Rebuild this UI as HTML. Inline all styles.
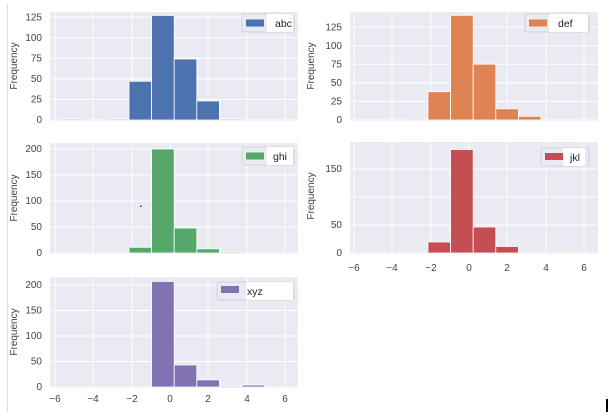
<!DOCTYPE html>
<html><head><meta charset="utf-8"><style>
body{margin:0;background:#fff;width:610px;height:412px;overflow:hidden}
text{font-family:"Liberation Sans","DejaVu Sans",sans-serif;fill:#444;font-size:10px}
</style></head><body>
<svg width="610" height="412" xmlns="http://www.w3.org/2000/svg">
<line x1="7.5" y1="4" x2="7.5" y2="412" stroke="#d8dde8" stroke-width="1"/>
<rect x="606" y="399" width="2" height="13" fill="#000"/>

<!-- abc -->
<rect x="50" y="12" width="248" height="109" fill="#eaeaf2"/>
<g stroke="#fff" stroke-width="1">
<line x1="55" y1="12" x2="55" y2="121"/><line x1="93" y1="12" x2="93" y2="121"/><line x1="132" y1="12" x2="132" y2="121"/><line x1="170" y1="12" x2="170" y2="121"/><line x1="208" y1="12" x2="208" y2="121"/><line x1="247" y1="12" x2="247" y2="121"/><line x1="285" y1="12" x2="285" y2="121"/>
<line x1="50" y1="120" x2="298" y2="120"/><line x1="50" y1="99.4" x2="298" y2="99.4"/><line x1="50" y1="78.8" x2="298" y2="78.8"/><line x1="50" y1="58.2" x2="298" y2="58.2"/><line x1="50" y1="37.6" x2="298" y2="37.6"/><line x1="50" y1="17" x2="298" y2="17"/>
</g>
<g fill="#4c72b0" stroke="#fff" stroke-width="0.8">
<rect x="61" y="119" width="22.6" height="1"/><rect x="106" y="119" width="22.6" height="1"/>
<rect x="129" y="81.3" width="22.6" height="38.7"/><rect x="151.6" y="15.4" width="22.6" height="104.6"/><rect x="174.2" y="59" width="22.6" height="61"/><rect x="196.8" y="101" width="22.6" height="19"/><rect x="219.4" y="119" width="22.6" height="1"/>
</g>
<g text-anchor="end"><text x="42" y="123">0</text><text x="42" y="102.5">25</text><text x="42" y="82">50</text><text x="42" y="61.5">75</text><text x="42" y="41">100</text><text x="42" y="20.5">125</text></g>
<text transform="translate(17,66) rotate(-90)" text-anchor="middle">Frequency</text>
<rect x="242" y="14" width="52" height="18" rx="2" fill="#eaeaf2" stroke="#d0d0d8"/>
<rect x="246" y="19.5" width="18" height="7" fill="#4c72b0"/>
<rect x="267" y="14" width="26" height="18" fill="#fff"/>
<text x="275" y="27" style="fill:#222;font-size:10.5px">abc</text>

<!-- ghi -->
<rect x="50" y="143" width="248" height="111" fill="#eaeaf2"/>
<g stroke="#fff" stroke-width="1">
<line x1="55" y1="143" x2="55" y2="254"/><line x1="93" y1="143" x2="93" y2="254"/><line x1="132" y1="143" x2="132" y2="254"/><line x1="170" y1="143" x2="170" y2="254"/><line x1="208" y1="143" x2="208" y2="254"/><line x1="247" y1="143" x2="247" y2="254"/><line x1="285" y1="143" x2="285" y2="254"/>
<line x1="50" y1="253" x2="298" y2="253"/><line x1="50" y1="227" x2="298" y2="227"/><line x1="50" y1="201" x2="298" y2="201"/><line x1="50" y1="175" x2="298" y2="175"/><line x1="50" y1="149" x2="298" y2="149"/>
</g>
<g fill="#55a868" stroke="#fff" stroke-width="0.8">
<rect x="129" y="247.3" width="22.6" height="5.7"/><rect x="151.6" y="149" width="22.6" height="104"/><rect x="174.2" y="228" width="22.6" height="25"/><rect x="196.8" y="248.8" width="22.6" height="4.2"/><rect x="219.4" y="252" width="22.6" height="1"/><rect x="264.6" y="252" width="22.6" height="1" fill="#9fd0aa"/>
</g>
<rect x="140" y="205.5" width="1.5" height="1.5" fill="#2030e0"/>
<g text-anchor="end"><text x="42" y="256">0</text><text x="42" y="230">50</text><text x="42" y="204">100</text><text x="42" y="178">150</text><text x="42" y="152">200</text></g>
<text transform="translate(17,198) rotate(-90)" text-anchor="middle">Frequency</text>
<rect x="242" y="147" width="52" height="18" rx="2" fill="#eaeaf2" stroke="#d0d0d8"/>
<rect x="246" y="152.5" width="18" height="7" fill="#55a868"/>
<rect x="267" y="147" width="26" height="18" fill="#fff"/>
<text x="273" y="160" style="fill:#222;font-size:10.5px">ghi</text>

<!-- xyz -->
<rect x="50" y="277" width="248" height="111" fill="#eaeaf2"/>
<g stroke="#fff" stroke-width="1">
<line x1="55" y1="277" x2="55" y2="388"/><line x1="93" y1="277" x2="93" y2="388"/><line x1="132" y1="277" x2="132" y2="388"/><line x1="170" y1="277" x2="170" y2="388"/><line x1="208" y1="277" x2="208" y2="388"/><line x1="247" y1="277" x2="247" y2="388"/><line x1="285" y1="277" x2="285" y2="388"/>
<line x1="50" y1="387" x2="298" y2="387"/><line x1="50" y1="361.5" x2="298" y2="361.5"/><line x1="50" y1="336" x2="298" y2="336"/><line x1="50" y1="310.5" x2="298" y2="310.5"/><line x1="50" y1="285" x2="298" y2="285"/>
</g>
<g fill="#8172b2" stroke="#fff" stroke-width="0.8">
<rect x="151.6" y="281.4" width="22.6" height="105.6"/><rect x="174.2" y="365" width="22.6" height="22"/><rect x="196.8" y="379.9" width="22.6" height="7.1"/><rect x="219.4" y="386" width="22.6" height="1"/><rect x="242" y="385" width="22.6" height="2"/>
</g>
<g text-anchor="end"><text x="42" y="390">0</text><text x="42" y="364.5">50</text><text x="42" y="339">100</text><text x="42" y="313.5">150</text><text x="42" y="288">200</text></g>
<text transform="translate(17,332) rotate(-90)" text-anchor="middle">Frequency</text>
<g text-anchor="middle"><text x="55" y="402">−6</text><text x="93" y="402">−4</text><text x="132" y="402">−2</text><text x="170" y="402">0</text><text x="208" y="402">2</text><text x="247" y="402">4</text><text x="285" y="402">6</text></g>
<rect x="217" y="282" width="77" height="18" rx="2" fill="#eaeaf2" stroke="#d0d0d8"/>
<rect x="221" y="286" width="18" height="7" fill="#8172b2"/>
<rect x="246" y="282" width="47" height="18" fill="#fff"/>
<text x="247" y="295" style="fill:#222;font-size:10.5px">xyz</text>

<!-- def -->
<rect x="350" y="12" width="248" height="109" fill="#eaeaf2"/>
<g stroke="#fff" stroke-width="1">
<line x1="354" y1="12" x2="354" y2="121"/><line x1="392" y1="12" x2="392" y2="121"/><line x1="431" y1="12" x2="431" y2="121"/><line x1="469" y1="12" x2="469" y2="121"/><line x1="507" y1="12" x2="507" y2="121"/><line x1="546" y1="12" x2="546" y2="121"/><line x1="584" y1="12" x2="584" y2="121"/>
<line x1="350" y1="120" x2="598" y2="120"/><line x1="350" y1="101.4" x2="598" y2="101.4"/><line x1="350" y1="82.8" x2="598" y2="82.8"/><line x1="350" y1="64.2" x2="598" y2="64.2"/><line x1="350" y1="45.6" x2="598" y2="45.6"/><line x1="350" y1="27" x2="598" y2="27"/>
</g>
<g fill="#dd8452" stroke="#fff" stroke-width="0.8">
<rect x="405.4" y="119" width="22.6" height="1"/><rect x="428" y="91.7" width="22.6" height="28.3"/><rect x="450.6" y="15.3" width="22.6" height="104.7"/><rect x="473.2" y="64.2" width="22.6" height="55.8"/><rect x="495.8" y="108.8" width="22.6" height="11.2"/><rect x="518.4" y="116.3" width="22.6" height="3.7"/>
</g>
<g text-anchor="end"><text x="342" y="123">0</text><text x="342" y="104.5">25</text><text x="342" y="86">50</text><text x="342" y="67.5">75</text><text x="342" y="49">100</text><text x="342" y="30.5">125</text></g>
<text transform="translate(314,66) rotate(-90)" text-anchor="middle">Frequency</text>
<rect x="525" y="14" width="64" height="18" rx="2" fill="#eaeaf2" stroke="#d0d0d8"/>
<rect x="529" y="19.5" width="18" height="7" fill="#dd8452"/>
<rect x="549" y="14" width="39" height="18" fill="#fff"/>
<text x="558" y="27" style="fill:#222;font-size:10.5px">def</text>

<!-- jkl -->
<rect x="350" y="142" width="248" height="112" fill="#eaeaf2"/>
<g stroke="#fff" stroke-width="1">
<line x1="354" y1="142" x2="354" y2="254"/><line x1="392" y1="142" x2="392" y2="254"/><line x1="431" y1="142" x2="431" y2="254"/><line x1="469" y1="142" x2="469" y2="254"/><line x1="507" y1="142" x2="507" y2="254"/><line x1="546" y1="142" x2="546" y2="254"/><line x1="584" y1="142" x2="584" y2="254"/>
<line x1="350" y1="253" x2="598" y2="253"/><line x1="350" y1="225" x2="598" y2="225"/><line x1="350" y1="197" x2="598" y2="197"/><line x1="350" y1="169" x2="598" y2="169"/>
</g>
<g fill="#c44e52" stroke="#fff" stroke-width="0.8">
<rect x="428" y="242" width="22.6" height="11"/><rect x="450.6" y="149.5" width="22.6" height="103.5"/><rect x="473.2" y="227" width="22.6" height="26"/><rect x="495.8" y="246.5" width="22.6" height="6.5"/><rect x="541" y="252" width="22.6" height="1" fill="#e09a9c"/><rect x="563.6" y="252" width="22.6" height="1" fill="#e09a9c"/>
</g>
<g text-anchor="end"><text x="342" y="256">0</text><text x="342" y="228">50</text><text x="342" y="172">150</text></g>
<text transform="translate(314,196) rotate(-90)" text-anchor="middle">Frequency</text>
<g text-anchor="middle"><text x="354" y="271">−6</text><text x="392" y="271">−4</text><text x="431" y="271">−2</text><text x="469" y="271">0</text><text x="507" y="271">2</text><text x="546" y="271">4</text><text x="584" y="271">6</text></g>
<rect x="541" y="148" width="48" height="18" rx="2" fill="#eaeaf2" stroke="#d0d0d8"/>
<rect x="545" y="153" width="18" height="7" fill="#c44e52"/>
<rect x="563" y="148" width="22" height="18" fill="#fff"/>
<text x="570" y="161" style="fill:#222;font-size:10.5px">jkl</text>
</svg>
</body></html>
